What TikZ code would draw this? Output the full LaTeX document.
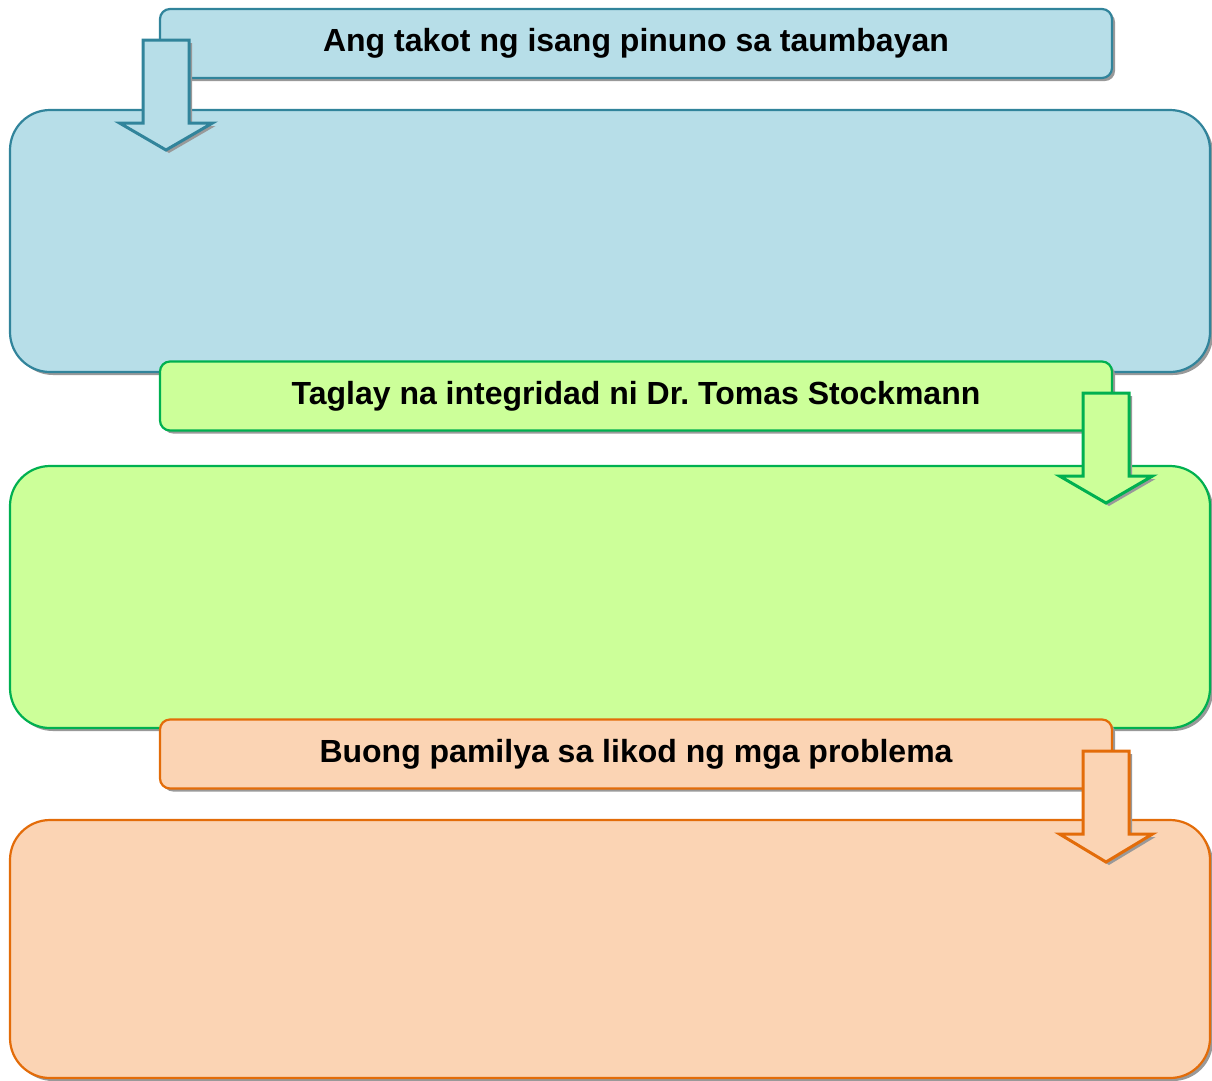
\documentclass[tikz,border=0pt]{standalone}
\usepackage{fontspec}
\setmainfont{Liberation Sans}
\usetikzlibrary{shadows}
\definecolor{blueFill}{HTML}{B7DEE8}
\definecolor{blueLine}{HTML}{31849B}
\definecolor{greenFill}{HTML}{CCFF99}
\definecolor{greenLine}{HTML}{00B050}
\definecolor{orangeFill}{HTML}{FBD4B4}
\definecolor{orangeLine}{HTML}{E36C09}
\def\blockarrow[#1](#2,#3,#4,#5){\draw[#1] (#2-23,#3) -- (#2+23,#3) -- (#2+23,#4) -- (#2+46.5,#4) -- (#2,#5) -- (#2-46.5,#4) -- (#2-23,#4) -- cycle;}

\begin{document}
\begin{tikzpicture}[x=1pt, y=-1pt,
    shade/.style={drop shadow={shadow xshift=3pt, shadow yshift=-3pt, fill=gray!80, opacity=1}},
    titlebox/.style={shade, draw, line width=2.2pt, rounded corners=10pt, minimum width=952pt, minimum height=69pt, inner sep=0pt, font=\fontsize{32}{38}\selectfont\bfseries},
    bigbox/.style={shade, draw, line width=2.2pt, rounded corners=40pt, minimum width=1200pt, minimum height=262pt},
    arrowstyle/.style={shade, line width=3pt, line join=miter}]
		%%%%% START %%%%%
		\useasboundingbox (0,0) rectangle (1212,1080);
		
		\node[titlebox, fill=blueFill, draw=blueLine] (fear) at (636,43.5) {Ang takot ng isang pinuno sa taumbayan};
		\node[bigbox, fill=blueFill, draw=blueLine] (fearbox) at (610,241) {};
		\blockarrow[arrowstyle, fill=blueFill, draw=blueLine](166,40,123,150)
		
		\node[titlebox, fill=greenFill, draw=greenLine] (integrity) at (636,396) {Taglay na integridad ni Dr.\ Tomas Stockmann};
		\node[bigbox, fill=greenFill, draw=greenLine] (integritybox) at (610,597) {};
		\blockarrow[arrowstyle, fill=greenFill, draw=greenLine](1106,393,476,503)
		
		\node[titlebox, fill=orangeFill, draw=orangeLine] (family) at (636,754) {Buong pamilya sa likod ng mga problema};
		\node[bigbox, fill=orangeFill, draw=orangeLine, minimum height=258pt] (familybox) at (610,949) {};
		\blockarrow[arrowstyle, fill=orangeFill, draw=orangeLine](1106,751,834,862)
		
		%%%%% END %%%%%
	\end{tikzpicture}
\end{document}
